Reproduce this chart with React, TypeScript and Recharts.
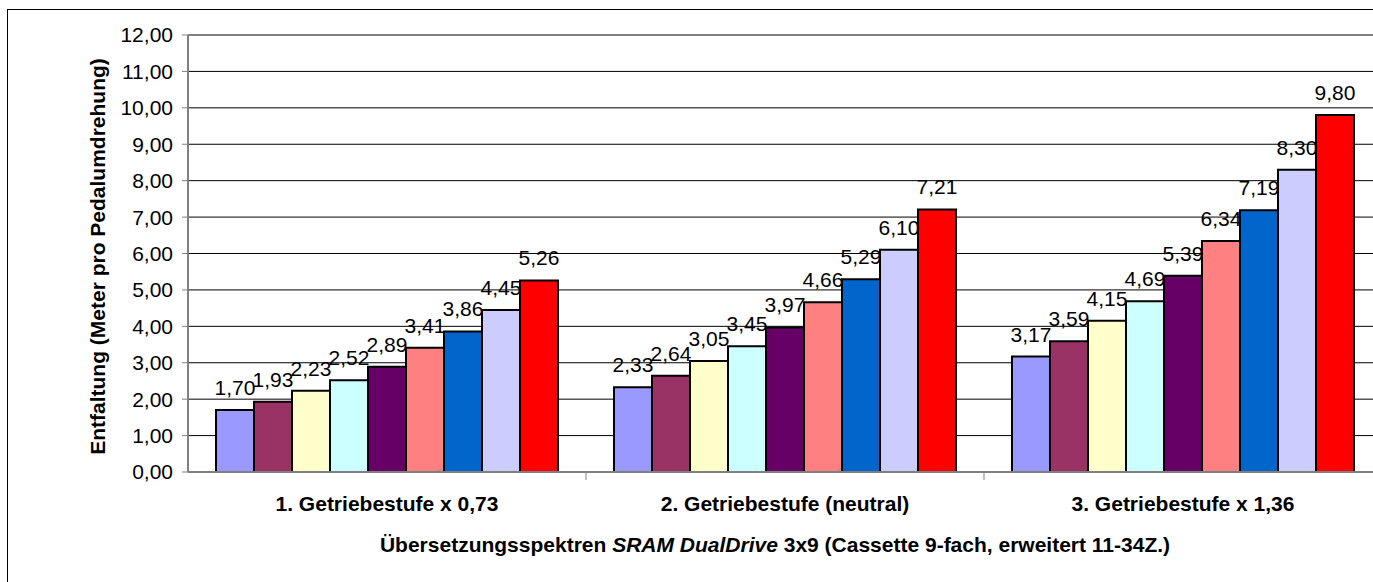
import React from 'react';
import { BarChart, Bar, XAxis, YAxis, CartesianGrid, LabelList } from 'recharts';

// Entfaltung je Ritzel (9-fach Kassette), je Getriebestufe
const categories = [
  '1. Getriebestufe x 0,73',
  '2. Getriebestufe (neutral)',
  '3. Getriebestufe x 1,36',
];
const stufe1 = [1.7, 1.93, 2.23, 2.52, 2.89, 3.41, 3.86, 4.45, 5.26];
const stufe2 = [2.33, 2.64, 3.05, 3.45, 3.97, 4.66, 5.29, 6.1, 7.21];
const stufe3 = [3.17, 3.59, 4.15, 4.69, 5.39, 6.34, 7.19, 8.3, 9.8];
const seriesColors = [
  '#9999FF',
  '#993366',
  '#FFFFCC',
  '#CCFFFF',
  '#660066',
  '#FF8080',
  '#0066CC',
  '#CCCCFF',
  '#FF0000',
];
const yTicks = [0, 1, 2, 3, 4, 5, 6, 7, 8, 9, 10, 11, 12];

const FONT = '"Liberation Sans", Arial, sans-serif';
const CHART_W = 1400;
const CHART_H = 600;
const MARGIN = { top: 35, right: 18, left: 0, bottom: 28 };
const Y_AXIS_W = 188;
const X_AXIS_H = 100;
const BAND = (CHART_W - MARGIN.left - MARGIN.right - Y_AXIS_W) / categories.length;

const values = [stufe1, stufe2, stufe3];
const data = categories.map((name, i) => {
  const row: { [key: string]: string | number } = { name };
  values[i].forEach((v, j) => {
    row[`r${j}`] = v;
  });
  return row;
});

const fmt = (v: any) => Number(v).toFixed(2).replace('.', ',');

const CategoryTick = (props: any) => {
  const { x, y, payload } = props;
  return (
    <g>
      <text
        x={x}
        y={y + 39}
        textAnchor="middle"
        fontFamily={FONT}
        fontSize={21}
        fontWeight="bold"
        fill="#000"
      >
        {payload.value}
      </text>
      <line x1={x + BAND / 2} x2={x + BAND / 2} y1={y} y2={y + 8} stroke="#808080" strokeWidth={1} />
    </g>
  );
};

const YTitle = (props: any) => {
  const vb = props.viewBox || { x: 0, y: MARGIN.top, width: Y_AXIS_W, height: 437 };
  const cx = vb.x + 97;
  const cy = vb.y + vb.height / 2 + 3;
  return (
    <text
      x={cx}
      y={cy}
      transform={`rotate(-90 ${cx} ${cy})`}
      textAnchor="middle"
      dominantBaseline="central"
      fontFamily={FONT}
      fontSize={21}
      fontWeight="bold"
      fill="#000"
    >
      Entfaltung (Meter pro Pedalumdrehung)
    </text>
  );
};

const XTitle = (props: any) => {
  const vb = props.viewBox || { x: Y_AXIS_W, y: 472, width: BAND * 3, height: X_AXIS_H };
  const cx = vb.x + vb.width / 2 - 10;
  return (
    <text
      x={cx}
      y={vb.y + 80}
      textAnchor="middle"
      fontFamily={FONT}
      fontSize={21}
      fontWeight="bold"
      fill="#000"
    >
      Übersetzungsspektren <tspan fontStyle="italic">SRAM DualDrive</tspan> 3x9 (Cassette
      9-fach, erweitert 11-34Z.)
    </text>
  );
};

export default function App() {
  return (
    <div
      style={{
        position: 'fixed',
        left: 0,
        top: 0,
        width: 1373,
        height: 582,
        overflow: 'hidden',
        background: '#fff',
      }}
    >
      <div
        style={{
          position: 'absolute',
          left: 7,
          top: 9,
          width: 1400,
          height: 600,
          border: '1px solid #000',
        }}
      />
      <div style={{ position: 'absolute', left: 0, top: 0 }}>
        <BarChart
          width={CHART_W}
          height={CHART_H}
          data={data}
          margin={MARGIN}
          barCategoryGap={28}
          barGap={0}
        >
          <CartesianGrid vertical={false} stroke="#000" strokeWidth={1} />
          <XAxis
            dataKey="name"
            height={X_AXIS_H}
            tickLine={false}
            tickSize={0}
            tickMargin={0}
            axisLine={{ stroke: '#808080', strokeWidth: 2 }}
            tick={<CategoryTick />}
            interval={0}
            label={{ content: XTitle }}
          />
          <YAxis
            width={Y_AXIS_W}
            domain={[0, 12]}
            ticks={yTicks}
            interval={0}
            tickFormatter={fmt}
            tickSize={6}
            tickMargin={9}
            tickLine={{ stroke: '#808080' }}
            axisLine={{ stroke: '#808080', strokeWidth: 2 }}
            tick={{ fill: '#000', fontSize: 21, fontFamily: FONT }}
            label={{ content: YTitle }}
          />
          {seriesColors.map((color, j) => (
            <Bar
              key={j}
              dataKey={`r${j}`}
              fill={color}
              stroke="#000"
              strokeWidth={2}
              isAnimationActive={false}
            >
              <LabelList
                dataKey={`r${j}`}
                position="top"
                offset={15}
                formatter={fmt}
                fill="#000"
                fontSize={21}
                fontFamily={FONT}
              />
            </Bar>
          ))}
        </BarChart>
      </div>
    </div>
  );
}
